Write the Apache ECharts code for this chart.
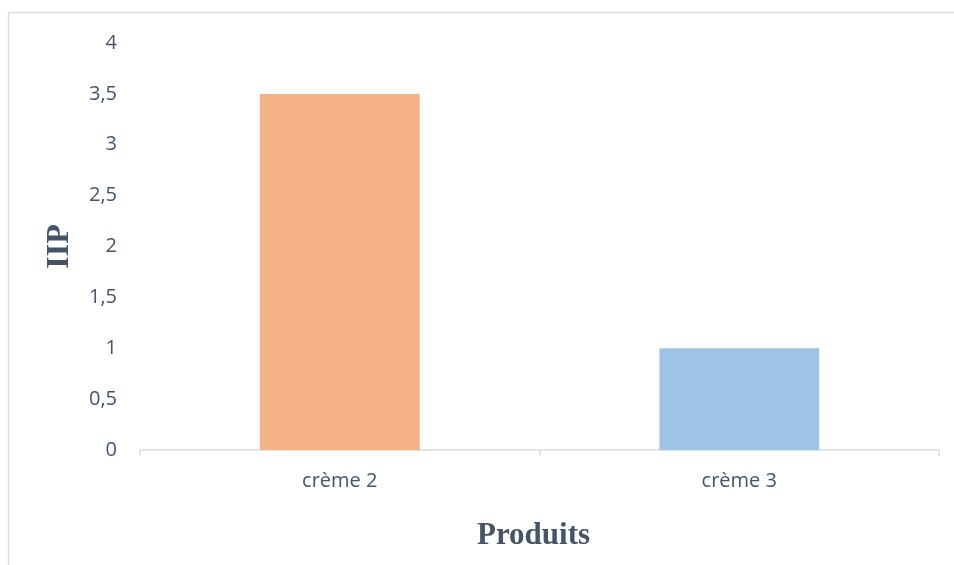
<!DOCTYPE html>
<html>
<head>
<meta charset="utf-8">
<script src="https://cdn.jsdelivr.net/npm/echarts@6/dist/echarts.min.js"></script>
<style>html,body{margin:0;padding:0;background:#fff;}#c{width:954px;height:565px;}</style>
</head>
<body>
<div id="c"></div>
<script>
var categories = ['crème 2', 'crème 3'];
var values = [3.5, 1.0];
var barColors = ['#F4B183', '#9DC3E6'];
var yTicks = [0, 0.5, 1, 1.5, 2, 2.5, 3, 3.5, 4];
var xTitle = 'Produits';
var yTitle = 'IIP';

var chart = echarts.init(document.getElementById('c'), null, {renderer: 'canvas'});
var labelColor = '#44546A';
chart.setOption({
  animation: false,
  backgroundColor: '#fff',
  graphic: [{
    type: 'rect',
    shape: {x: 8.5, y: 12.5, width: 1000, height: 600},
    style: {fill: 'none', stroke: '#D9DEE5', lineWidth: 1.5},
    silent: true
  }],
  grid: {left: 140, right: 15, top: 43, bottom: 115, containLabel: false},
  xAxis: {
    type: 'category',
    data: categories,
    axisLine: {show: true, lineStyle: {color: '#D9DEE5', width: 1.5}},
    axisTick: {show: true, length: 6, lineStyle: {color: '#D9DEE5', width: 1.5}},
    axisLabel: {color: labelColor, fontFamily: 'Open Sans', fontSize: 20, margin: 21},
    name: xTitle,
    nameLocation: 'middle',
    nameGap: 70,
    nameTextStyle: {color: labelColor, fontFamily: 'Liberation Serif', fontWeight: 'bold', fontSize: 31, padding: [0, 12, 0, 0]}
  },
  yAxis: {
    type: 'value',
    min: yTicks[0],
    max: yTicks[yTicks.length - 1],
    interval: 0.5,
    axisLine: {show: false},
    axisTick: {show: false},
    splitLine: {show: false},
    axisLabel: {
      color: labelColor, fontFamily: 'Open Sans', fontSize: 20, margin: 23,
      formatter: function (v) { return String(v).replace('.', ','); }
    },
    name: yTitle,
    nameLocation: 'middle',
    nameGap: 64,
    nameRotate: 90,
    nameTextStyle: {color: labelColor, fontFamily: 'Liberation Serif', fontWeight: 'bold', fontSize: 32}
  },
  series: [{
    type: 'bar',
    barWidth: '40%',
    data: values.map(function (v, i) { return {value: v, itemStyle: {color: barColors[i]}}; })
  }]
});
</script>
</body>
</html>
